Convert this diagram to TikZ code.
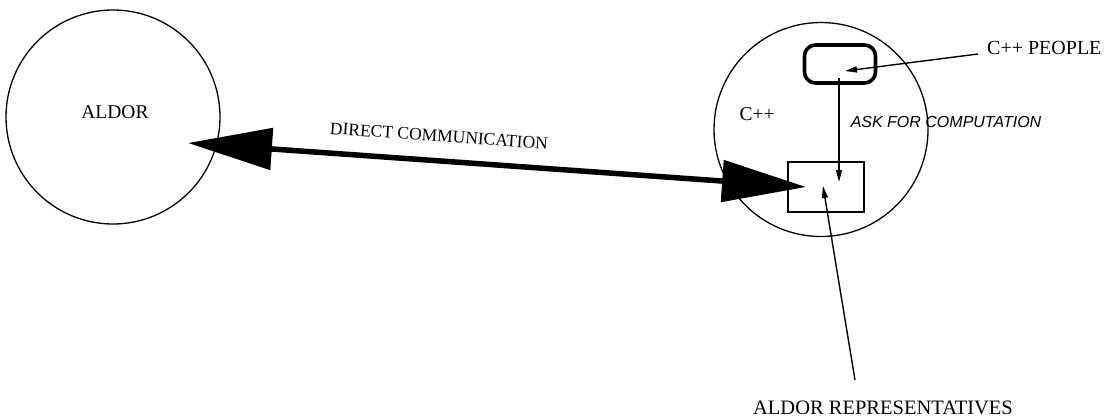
\documentclass[tikz,border=0pt]{standalone}
\usepackage{fontspec}
\setmainfont{Liberation Serif}
\newfontfamily\helv{Liberation Sans}
\usetikzlibrary{arrows.meta}
\begin{document}
\begin{tikzpicture}[x=1pt,y=-1pt,
  circ/.style={draw,circle,line width=1.3pt,minimum size=214pt,inner sep=0pt},
  lbl/.style={font=\fontsize{19.5}{21}\selectfont,inner sep=0pt},
  thin/.style={line width=1.4pt,-{Triangle[length=12pt,width=6pt]}},
  big/.style={line width=5.5pt,{Triangle[length=84pt,width=41pt]}-{Triangle[length=84pt,width=41pt]}}]
\useasboundingbox (0,0) rectangle (1107,418);
\node[circ] (aldor) at (113,117) {};
\node[circ] (cpp) at (821,129.5) {};
\node[lbl] (aldorlbl) at (115,112) {ALDOR};
\node[lbl] (cpplbl) at (757,114) {C++};
\node[draw,line width=3.6pt,rounded corners=11pt,minimum width=71pt,minimum height=38pt,inner sep=0pt] (people) at (840,64) {};
\node[draw,line width=1.3pt,minimum width=76pt,minimum height=50pt,inner sep=0pt] (rep) at (826,187) {};
\node[font=\helv\itshape\fontsize{16}{18}\selectfont,inner sep=0pt] (ask) at (946,122) {ASK FOR COMPUTATION};
\node[lbl,anchor=west,font=\fontsize{20}{22}\selectfont] (peoplelbl) at (987,48) {C++ PEOPLE};
\node[lbl,font=\fontsize{20.5}{22}\selectfont] (replbl) at (883,408) {ALDOR REPRESENTATIVES};
\node[font=\fontsize{17.5}{19}\selectfont,inner sep=0pt,rotate=-4] (dc) at (439,136) {DIRECT COMMUNICATION};
\coordinate (ltip) at (188,143);
\coordinate (rtip) at (806,187);
\coordinate (pstart) at (978,54);
\coordinate (ptip) at (845,71);
\coordinate (vstart) at (839,78);
\coordinate (vtip) at (839,182);
\coordinate (rstart) at (855,380);
\coordinate (rptip) at (823,186);
\draw[big] (ltip) -- (rtip);
\draw[thin] (pstart) -- (ptip);
\draw[thin] (vstart) -- (vtip);
\draw[thin] (rstart) -- (rptip);
\end{tikzpicture}
\end{document}
